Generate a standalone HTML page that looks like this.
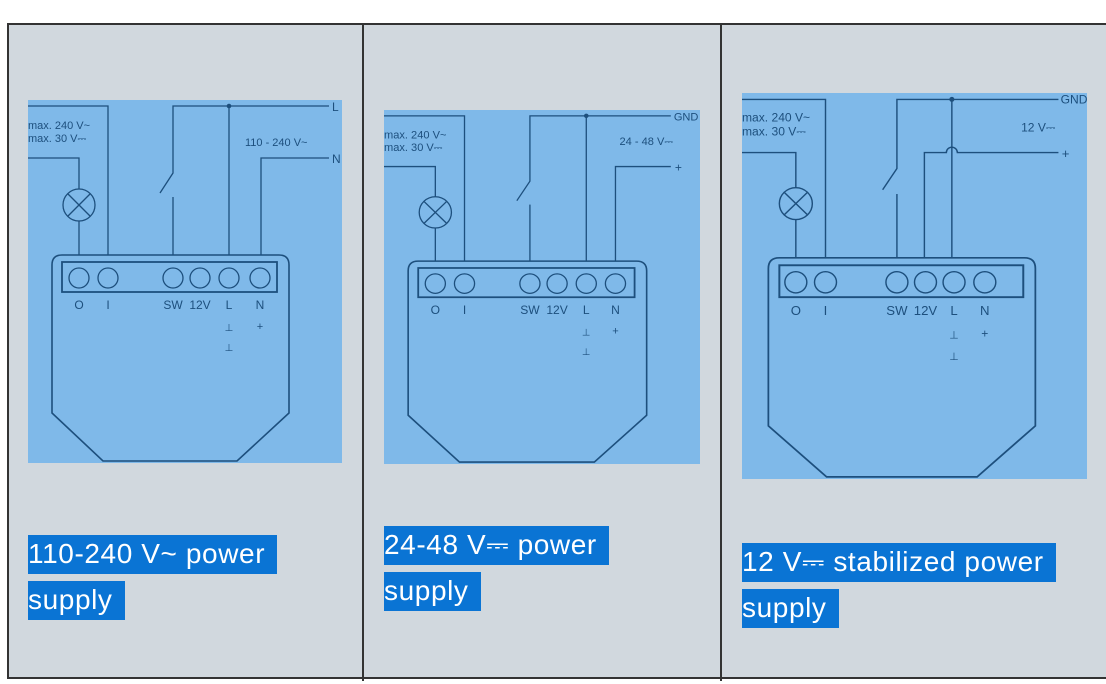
<!DOCTYPE html>
<html><head><meta charset="utf-8"><style>
html,body{margin:0;padding:0;background:#fff;width:1106px;height:684px;overflow:hidden;position:relative;font-family:"Liberation Sans",sans-serif}
.frame{position:absolute;left:7px;top:23px;width:1110px;height:656px;background:#d1d8de;border:2px solid #333;box-sizing:border-box}
.div{position:absolute;top:23px;width:2px;height:658px;background:#333}
svg.d{position:absolute}
.cap{position:absolute;font-size:28px;line-height:46px;color:#fff;font-family:"Liberation Sans",sans-serif;letter-spacing:0.6px}
.cap span{background:#0a74d4;padding:3px 12px 5px 0}
</style></head><body>
<div class="frame"></div>
<div class="div" style="left:362px"></div>
<div class="div" style="left:720px"></div>

<svg class="d" style="left:28px;top:100px" width="314" height="363" viewBox="0 0 314 363" preserveAspectRatio="none">
<rect width="314" height="363" fill="#7fb9e9"/>
<g fill="none" stroke="#1d4f7d" stroke-width="1.3">
<polyline points="0,6 80,6 80,155"/>
<polyline points="0,58 51,58 51,89"/><circle cx="51" cy="105" r="16"/>
<line x1="40" y1="94" x2="62" y2="116"/><line x1="62" y1="94" x2="40" y2="116"/>
<line x1="51" y1="121" x2="51" y2="155"/>
<polyline points="301,6 145,6 145,73 132,93"/><line x1="145" y1="97" x2="145" y2="155"/>
<line x1="201" y1="6" x2="201" y2="155"/>
<polyline points="301,58 233,58 233,155"/>
<path d="M24,165 Q24,155 34,155 L251,155 Q261,155 261,165 L261,313 L209,361 L75,361 L24,313 Z" stroke-width="1.6"/>
<rect x="34" y="162" width="215" height="30" stroke-width="1.8"/>
<circle cx="51" cy="178" r="10"/><circle cx="80" cy="178" r="10"/><circle cx="145" cy="178" r="10"/><circle cx="172" cy="178" r="10"/><circle cx="201" cy="178" r="10"/><circle cx="232" cy="178" r="10"/>
</g>
<circle cx="201" cy="6" r="2.3" fill="#1d4f7d"/>
<g fill="#1d4f7d" font-size="11" font-family="Liberation Sans Narrow,Liberation Sans,sans-serif">
<text x="0" y="29">max. 240 V~</text><text x="0" y="42">max. 30 V⎓</text>
<text x="217" y="46">110 - 240 V~</text>
<text x="304" y="11" font-size="12">L</text><text x="304" y="63" font-size="12">N</text>
<g text-anchor="middle" font-size="12"><text x="51" y="209">O</text><text x="80" y="209">I</text><text x="145" y="209">SW</text><text x="172" y="209">12V</text><text x="201" y="209">L</text><text x="232" y="209">N</text>
<text x="201" y="231" font-size="10">⊥</text><text x="232" y="230" font-size="11">+</text><text x="201" y="251" font-size="10">⊥</text></g>
</g></svg>

<svg class="d" style="left:384px;top:110px" width="316" height="354" viewBox="0 0 314 363" preserveAspectRatio="none">
<rect width="314" height="363" fill="#7fb9e9"/>
<g fill="none" stroke="#1d4f7d" stroke-width="1.3">
<polyline points="0,6 80,6 80,155"/>
<polyline points="0,58 51,58 51,89"/><circle cx="51" cy="105" r="16"/>
<line x1="40" y1="94" x2="62" y2="116"/><line x1="62" y1="94" x2="40" y2="116"/>
<line x1="51" y1="121" x2="51" y2="155"/>
<polyline points="285,6 145,6 145,73 132,93"/><line x1="145" y1="97" x2="145" y2="155"/>
<line x1="201" y1="6" x2="201" y2="155"/>
<polyline points="285,58 230,58 230,155"/>
<path d="M24,165 Q24,155 34,155 L251,155 Q261,155 261,165 L261,313 L209,361 L75,361 L24,313 Z" stroke-width="1.6"/>
<rect x="34" y="162" width="215" height="30" stroke-width="1.8"/>
<circle cx="51" cy="178" r="10"/><circle cx="80" cy="178" r="10"/><circle cx="145" cy="178" r="10"/><circle cx="172" cy="178" r="10"/><circle cx="201" cy="178" r="10"/><circle cx="230" cy="178" r="10"/>
</g>
<circle cx="201" cy="6" r="2.3" fill="#1d4f7d"/>
<g fill="#1d4f7d" font-size="11" font-family="Liberation Sans Narrow,Liberation Sans,sans-serif">
<text x="0" y="29">max. 240 V~</text><text x="0" y="42">max. 30 V⎓</text>
<text x="234" y="36">24 - 48 V⎓</text>
<text x="288" y="11" font-size="11">GND</text><text x="289" y="63" font-size="12">+</text>
<g text-anchor="middle" font-size="12"><text x="51" y="209">O</text><text x="80" y="209">I</text><text x="145" y="209">SW</text><text x="172" y="209">12V</text><text x="201" y="209">L</text><text x="230" y="209">N</text>
<text x="201" y="231" font-size="10">⊥</text><text x="230" y="230" font-size="11">+</text><text x="201" y="251" font-size="10">⊥</text></g>
</g></svg>

<svg class="d" style="left:742px;top:93px" width="345" height="386" viewBox="0 0 314 363" preserveAspectRatio="none">
<rect width="314" height="363" fill="#7fb9e9"/>
<g fill="none" stroke="#1d4f7d" stroke-width="1.3">
<polyline points="0,6 76,6 76,155"/>
<polyline points="0,56 49,56 49,89"/><circle cx="49" cy="104" r="15"/>
<line x1="38" y1="93" x2="60" y2="115"/><line x1="60" y1="93" x2="38" y2="115"/>
<line x1="49" y1="119" x2="49" y2="155"/>
<polyline points="288,6 141,6 141,71 128,91"/><line x1="141" y1="95" x2="141" y2="155"/>
<line x1="191" y1="6" x2="191" y2="155"/>
<path d="M288,56 L196,56 A5,5 0 0 0 186,56 L166,56 L166,155"/>
<path d="M24,165 Q24,155 34,155 L257,155 Q267,155 267,165 L267,313 L214,361 L77,361 L24,313 Z" stroke-width="1.6"/>
<rect x="34" y="162" width="222" height="30" stroke-width="1.8"/>
<circle cx="49" cy="178" r="10"/><circle cx="76" cy="178" r="10"/><circle cx="141" cy="178" r="10"/><circle cx="167" cy="178" r="10"/><circle cx="193" cy="178" r="10"/><circle cx="221" cy="178" r="10"/>
</g>
<circle cx="191" cy="6" r="2.3" fill="#1d4f7d"/>
<g fill="#1d4f7d" font-size="11" font-family="Liberation Sans Narrow,Liberation Sans,sans-serif">
<text x="0" y="27">max. 240 V~</text><text x="0" y="40">max. 30 V⎓</text>
<text x="254" y="36">12 V⎓</text>
<text x="290" y="10" font-size="11">GND</text><text x="291" y="61" font-size="12">+</text>
<g text-anchor="middle" font-size="12"><text x="49" y="209">O</text><text x="76" y="209">I</text><text x="141" y="209">SW</text><text x="167" y="209">12V</text><text x="193" y="209">L</text><text x="221" y="209">N</text>
<text x="193" y="231" font-size="10">⊥</text><text x="221" y="230" font-size="11">+</text><text x="193" y="251" font-size="10">⊥</text></g>
</g></svg>

<div class="cap" style="left:28px;top:531px"><span>110-240 V~ power</span><br><span>supply</span></div>
<div class="cap" style="left:384px;top:522px"><span>24-48 V⎓ power</span><br><span>supply</span></div>
<div class="cap" style="left:742px;top:539px"><span>12 V⎓ stabilized power</span><br><span>supply</span></div>
</body></html>
